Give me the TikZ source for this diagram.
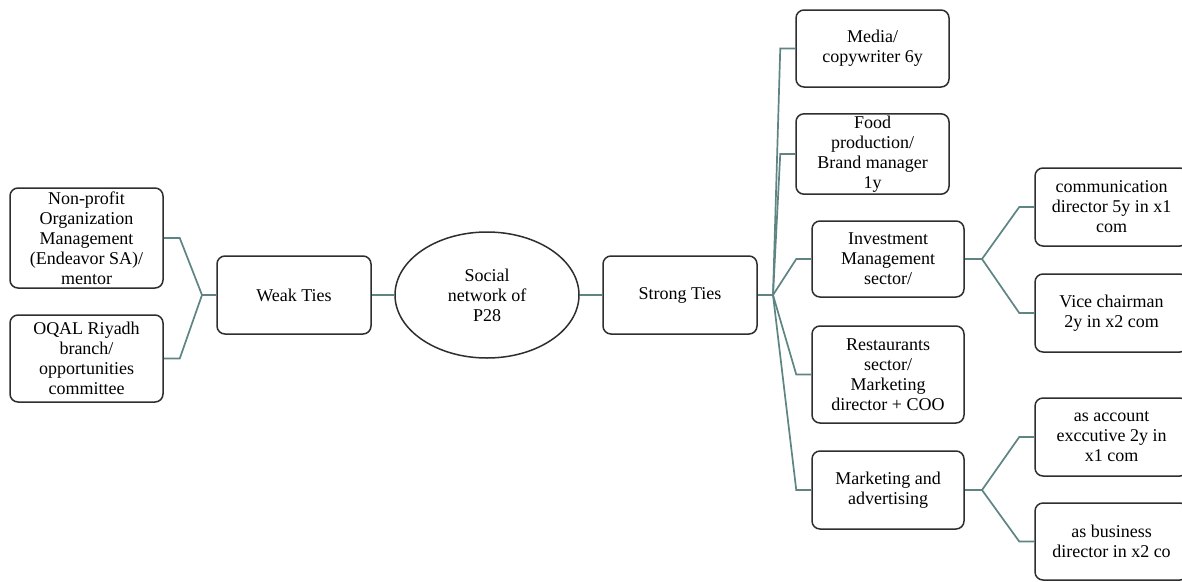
\documentclass[tikz,border=0pt]{standalone}
\usepackage{fontspec}
\setmainfont{Liberation Serif}
\usetikzlibrary{shapes.geometric}
\definecolor{linkcol}{HTML}{5E8583}
\definecolor{edgecol}{HTML}{2E2E2E}
\begin{document}
\begin{tikzpicture}[x=1pt,y=-1pt,
  box/.style={draw=edgecol,line width=1.5pt,rounded corners=8pt,fill=white,
    align=center,inner sep=2pt,font=\fontsize{18}{20}\selectfont},
  hub/.style={draw=edgecol,line width=1.5pt,ellipse,fill=white,inner sep=0pt,
    minimum width=184pt,minimum height=126pt,align=center,font=\fontsize{18}{20}\selectfont},
  link/.style={draw=linkcol,line width=1.7pt}]
\clip (0,0) rectangle (1182,581);
\fill[white] (0,0) rectangle (1182,581);

% left branch: weak ties
\node[box,minimum width=153pt,minimum height=100pt] (np) at (86.5,238)
  {Non-profit\\Organization\\Management\\(Endeavor SA)/\\mentor};
\node[box,minimum width=153pt,minimum height=87pt] (oq) at (86.5,358.5)
  {OQAL Riyadh\\branch/\\opportunities\\committee};
\node[box,minimum width=154pt,minimum height=78pt] (weak) at (294,295) {Weak Ties};

% centre
\node[hub] (soc) at (487,295) {Social\\network of\\P28};

% right branch: strong ties
\node[box,minimum width=154pt,minimum height=78pt] (strong) at (680,295) {Strong Ties};
\node[box,minimum width=153pt,minimum height=77pt] (media) at (872.5,48.5) {Media/\\copywriter 6y};
\node[box,minimum width=153pt,minimum height=78pt] (food) at (872.5,154) {Food\\production/\\Brand manager\\1y};
\node[box,minimum width=152pt,minimum height=76pt] (inv) at (888,259) {Investment\\Management\\sector/};
\node[box,minimum width=152pt,minimum height=97pt] (rest) at (888,374.5) {Restaurants\\sector/\\Marketing\\director + COO};
\node[box,minimum width=152pt,minimum height=78pt] (mkt) at (888,490) {Marketing and\\advertising};

% third level
\node[box,minimum width=153pt,minimum height=78pt] (comm) at (1111.5,207) {communication\\director 5y in x1\\com};
\node[box,minimum width=153pt,minimum height=78pt] (vice) at (1111.5,313) {Vice chairman\\2y in x2 com};
\node[box,minimum width=153pt,minimum height=78pt] (acct) at (1111.5,437) {as account\\exccutive 2y in\\x1 com};
\node[box,minimum width=153pt,minimum height=77pt] (bus) at (1111.5,541.5) {as business\\director in x2 co};

% junction points
\coordinate (wj) at (202,295);
\coordinate (sj) at (773,295);
\coordinate (ij) at (982,259);
\coordinate (mj) at (982,490);

% connectors
\draw[link] (np.east) -- ([xshift=16pt]np.east) -- (wj);
\draw[link] (oq.east) -- ([xshift=16pt]oq.east) -- (wj);
\draw[link] (wj) -- (weak.west);
\draw[link] (weak.east) -- (soc.west);
\draw[link] (soc.east) -- (strong.west);
\draw[link] (strong.east) -- (sj);
\foreach \n in {media,food,inv,rest,mkt}
  \draw[link] (sj) -- ([xshift=-15pt]\n.west) -- (\n.west);
\draw[link] (inv.east) -- (ij);
\foreach \n in {comm,vice}
  \draw[link] (ij) -- ([xshift=-15pt]\n.west) -- (\n.west);
\draw[link] (mkt.east) -- (mj);
\foreach \n in {acct,bus}
  \draw[link] (mj) -- ([xshift=-15pt]\n.west) -- (\n.west);
\end{tikzpicture}
\end{document}
